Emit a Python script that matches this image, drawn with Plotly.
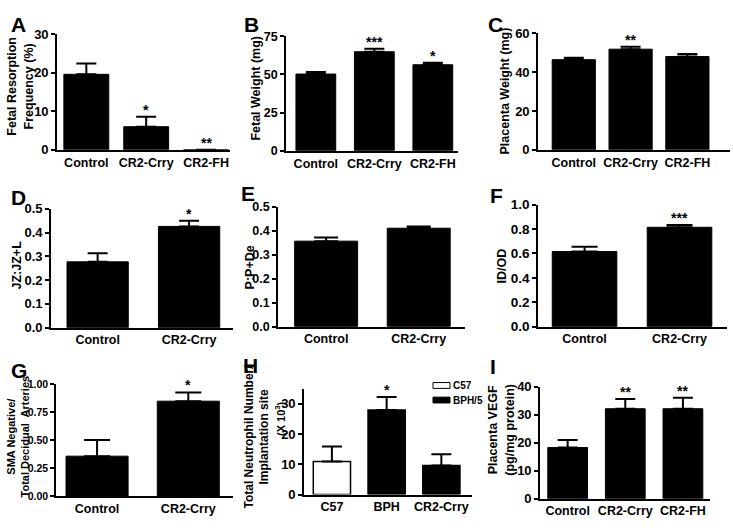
import plotly.graph_objects as go

W, H = 733, 530
FONT = "Liberation Sans, Arial, sans-serif"

# ---------------- data ----------------
A_cats = ["Control", "CR2-Crry", "CR2-FH"]
A_vals = [19.6, 6.0, 0.0]
A_err = [2.8, 2.6, 0.0]
A_stars = ["", "*", "**"]

B_cats = ["Control", "CR2-Crry", "CR2-FH"]
B_vals = [50.2, 64.8, 56.3]
B_err = [1.3, 1.9, 1.3]
B_stars = ["", "***", "*"]

C_cats = ["Control", "CR2-Crry", "CR2-FH"]
C_vals = [46.4, 51.8, 48.0]
C_err = [1.0, 1.2, 1.3]
C_stars = ["", "**", ""]

D_cats = ["Control", "CR2-Crry"]
D_vals = [0.277, 0.426]
D_err = [0.036, 0.024]
D_stars = ["", "*"]

E_cats = ["Control", "CR2-Crry"]
E_vals = [0.357, 0.411]
E_err = [0.015, 0.007]
E_stars = ["", ""]

F_cats = ["Control", "CR2-Crry"]
F_vals = [0.615, 0.814]
F_err = [0.040, 0.019]
F_stars = ["", "***"]

G_cats = ["Control", "CR2-Crry"]
G_vals = [0.357, 0.849]
G_err = [0.145, 0.078]
G_stars = ["", "*"]

H_cats = ["C57", "BPH", "CR2-Crry"]
H_vals = [10.9, 27.9, 9.6]
H_err = [5.0, 4.3, 3.7]
H_stars = ["", "*", ""]
H_groups = ["C57", "BPH/5", "BPH/5"]
H_legend = ["C57", "BPH/5"]

I_cats = ["Control", "CR2-Crry", "CR2-FH"]
I_vals = [18.3, 32.2, 32.2]
I_err = [2.7, 3.5, 3.9]
I_stars = ["", "**", "**"]

GROUP_FILL = {"C57": "white", "BPH/5": "black"}

# ---------------- layout helpers ----------------
def fx(p):
    return p / W


def fy(p):
    return 1 - p / H


panels = [
    dict(L="A", cats=A_cats, vals=A_vals, err=A_err, stars=A_stars, x0=57, x1=230, y0=28, y1=147,
         xr=[-0.49, 2.40], yr=[0, 30], tv=[0, 10, 20, 30], tf="d", bw=0.75, cap=10, yfs=13,
         titles=[("Fetal Resorption<br>Frequency (%)", 20, 82, 12.5)], lp=(9, 4)),
    dict(L="B", cats=B_cats, vals=B_vals, err=B_err, stars=B_stars, x0=286, x1=458, y0=30, y1=148,
         xr=[-0.51, 2.43], yr=[0, 75], tv=[0, 25, 50, 75], tf="d", bw=0.68, cap=10, yfs=12.5,
         titles=[("Fetal Weight (mg)", 256, 84, 12.5)], lp=(242, 4)),
    dict(L="C", cats=C_cats, vals=C_vals, err=C_err, stars=C_stars, x0=538, x1=730, y0=27, y1=147,
         xr=[-0.63, 2.75], yr=[0, 60], tv=[0, 20, 40, 60], tf="d", bw=0.76, cap=10, yfs=13,
         titles=[("Placenta Weight (mg)", 505, 87, 12.5)], lp=(486, 4)),
    dict(L="D", cats=D_cats, vals=D_vals, err=D_err, stars=D_stars, x0=51, x1=233, y0=207.7, y1=330,
         xr=[-0.51, 1.48], yr=[0, 0.5], tv=[0, 0.1, 0.2, 0.3, 0.4, 0.5], tf=".1f", bw=0.67, cap=10, yfs=13,
         titles=[("JZ:JZ+L", 17, 266, 12.5)], lp=(9, 182)),
    dict(L="E", cats=E_cats, vals=E_vals, err=E_err, stars=E_stars, x0=278, x1=465, y0=205.7, y1=329,
         xr=[-0.52, 1.50], yr=[0, 0.5], tv=[0, 0.1, 0.2, 0.3, 0.4, 0.5], tf=".1f", bw=0.68, cap=12, yfs=12.5,
         titles=[("P:P+De", 250, 268, 12.5)], lp=(239, 178)),
    dict(L="F", cats=F_cats, vals=F_vals, err=F_err, stars=F_stars, x0=538, x1=727, y0=203.3, y1=329,
         xr=[-0.49, 1.50], yr=[0, 1.0], tv=[0, 0.2, 0.4, 0.6, 0.8, 1.0], tf=".1f", bw=0.68, cap=13, yfs=13.5,
         titles=[("ID/OD", 502, 267, 12.5)], lp=(488, 180)),
    dict(L="G", cats=G_cats, vals=G_vals, err=G_err, stars=G_stars, x0=56, x1=233, y0=388.3, y1=503.3,
         xr=[-0.45, 1.49], yr=[0, 1.0], tv=[0, 0.25, 0.5, 0.75, 1.0], tf=".2f", bw=0.68, cap=13, yfs=10.5,
         titles=[("SMA Negative/<br>Total Decidual  Arteries", 18, 442, 11)], lp=(9, 360)),
    dict(L="H", cats=H_cats, vals=H_vals, err=H_err, stars=H_stars, x0=304, x1=472, y0=392.7, y1=501.7,
         xr=[-0.51, 2.56], yr=[0, 35], tv=[0, 10, 20, 30], tf="d", bw=0.68, cap=10, yfs=13,
         titles=[("Total Neutrophil Number/<br>Implantation site", 257, 442, 12),
                 ("(X 10<sup>3</sup>)", 280, 424, 11)], lp=(241, 355)),
    dict(L="I", cats=I_cats, vals=I_vals, err=I_err, stars=I_stars, x0=540, x1=710, y0=391, y1=506,
         xr=[-0.48, 2.47], yr=[0, 40], tv=[0, 10, 20, 30, 40], tf="d", bw=0.69, cap=10, yfs=13,
         titles=[("Placenta VEGF<br>(pg/mg protein)", 501, 435, 12.5)], lp=(488, 356)),
]

fig = go.Figure()
annotations = []
shapes = []
layout_axes = {}

for i, p in enumerate(panels):
    n = i + 1
    xa = "x" if n == 1 else f"x{n}"
    ya = "y" if n == 1 else f"y{n}"
    xkey = "xaxis" if n == 1 else f"xaxis{n}"
    ykey = "yaxis" if n == 1 else f"yaxis{n}"

    def errbar(e, cap=p["cap"]):
        return dict(type="data", symmetric=False, array=e, arrayminus=[0] * len(e),
                    color="black", thickness=2, width=cap)

    if p["L"] == "H":
        for grp in H_legend:
            idx = [k for k, g in enumerate(H_groups) if g == grp]
            fig.add_trace(go.Bar(
                x=[p["cats"][k] for k in idx], y=[p["vals"][k] for k in idx],
                error_y=errbar([p["err"][k] for k in idx]),
                marker=dict(color=GROUP_FILL[grp], line=dict(color="black", width=1.5)),
                width=p["bw"], xaxis=xa, yaxis=ya, name=grp, showlegend=False,
            ))
    else:
        fig.add_trace(go.Bar(
            x=p["cats"], y=p["vals"], error_y=errbar(p["err"]),
            marker=dict(color="black", line=dict(color="black", width=1)),
            width=p["bw"], xaxis=xa, yaxis=ya, showlegend=False,
        ))

    layout_axes[xkey] = dict(
        domain=[fx(p["x0"]), fx(p["x1"])], anchor=ya, range=p["xr"],
        type="category", categoryorder="array", categoryarray=p["cats"],
        showline=True, linecolor="black", linewidth=1.6, ticks="", showgrid=False,
        tickfont=dict(family=FONT, size=12.5, color="black", weight="bold"),
        fixedrange=True,
    )
    layout_axes[ykey] = dict(
        domain=[fy(p["y1"]), fy(p["y0"])], anchor=xa, range=p["yr"],
        tickvals=p["tv"], tickformat=p["tf"],
        showline=True, linecolor="black", linewidth=1.6, ticks="outside",
        ticklen=4, tickwidth=1.6, tickcolor="black", showgrid=False, zeroline=False,
        tickfont=dict(family=FONT, size=p["yfs"], color="black", weight="bold"),
        fixedrange=True,
    )

    for c, v, e, s in zip(p["cats"], p["vals"], p["err"], p["stars"]):
        if s:
            annotations.append(dict(
                x=c, y=v + e, xref=xa, yref=ya, text=s, showarrow=False,
                yanchor="bottom", yshift=-3,
                font=dict(family=FONT, size=14, color="black", weight="bold"),
            ))

    for txt, tx, ty, ts in p["titles"]:
        annotations.append(dict(
            x=fx(tx), y=fy(ty), xref="paper", yref="paper", text=txt,
            textangle=-90, showarrow=False, xanchor="center", yanchor="middle",
            font=dict(family=FONT, size=ts, color="black", weight="bold"),
        ))
    annotations.append(dict(
        x=fx(p["lp"][0]), y=fy(p["lp"][1]), xref="paper", yref="paper", text=p["L"],
        showarrow=False, xanchor="left", yanchor="top",
        font=dict(family=FONT, size=21, color="black", weight="bold"),
    ))

# legend for panel H (swatches + labels)
for k, grp in enumerate(H_legend):
    top = 386.5 + 15 * k
    shapes.append(dict(type="rect", xref="paper", yref="paper",
                       x0=fx(433), x1=fx(450), y0=fy(top + 6), y1=fy(top),
                       fillcolor=GROUP_FILL[grp], line=dict(color="black", width=1)))
    annotations.append(dict(x=fx(451), y=fy(top + 3), xref="paper", yref="paper", text=grp,
                            showarrow=False, xanchor="left", yanchor="middle",
                            font=dict(family=FONT, size=10, color="black", weight="bold")))

fig.update_layout(
    width=W, height=H, margin=dict(l=0, r=0, t=0, b=0),
    paper_bgcolor="white", plot_bgcolor="white",
    barmode="overlay", annotations=annotations, shapes=shapes,
    font=dict(family=FONT, color="black"), showlegend=False,
    **layout_axes,
)

fig.write_html("out.html", config={"displayModeBar": False},
               post_script="document.body.style.margin='0';document.body.style.overflow='hidden';")
